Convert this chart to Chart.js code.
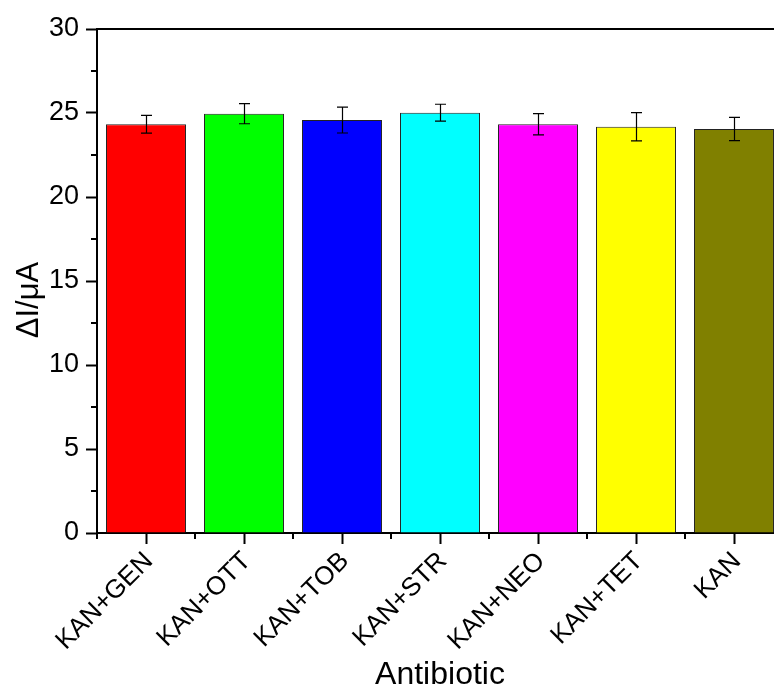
<!DOCTYPE html>
<html><head><meta charset="utf-8">
<style>html,body{margin:0;padding:0;overflow:hidden;background:#fff}
#wrap{width:800px;height:688px;position:relative}</style>
<script src="https://cdn.jsdelivr.net/npm/chart.js@4.4.1/dist/chart.umd.min.js"></script>
</head><body><div id="wrap"><canvas id="c"></canvas></div>
<script>
const categories = ['KAN+GEN','KAN+OTT','KAN+TOB','KAN+STR','KAN+NEO','KAN+TET','KAN'];
const values = [24.33, 24.96, 24.58, 25.02, 24.33, 24.18, 24.05];
const errors = [0.53, 0.60, 0.77, 0.50, 0.63, 0.84, 0.69];
const colors = ['#ff0000','#00ff00','#0000ff','#00ffff','#ff00ff','#ffff00','#808000'];
const yTickValues = [0,5,10,15,20,25,30];
const yMinorTicks = [2.5,7.5,12.5,17.5,22.5,27.5];
const yTitle = 'ΔI/μA';
const xTitle = 'Antibiotic';
const FONT = "'Liberation Sans', Arial, sans-serif";

const extras = {
  id: 'extras',
  afterDatasetsDraw(chart) {
    const {ctx, chartArea: a, scales: {x, y}} = chart;
    ctx.save();
    // error bars
    ctx.strokeStyle = '#000'; ctx.lineWidth = 1.2;
    values.forEach((v, i) => {
      const px = Math.round(x.getPixelForValue(i)) + 0.5;
      const t = y.getPixelForValue(v + errors[i]);
      const b = y.getPixelForValue(v - errors[i]);
      ctx.beginPath();
      ctx.moveTo(px, t); ctx.lineTo(px, b);
      ctx.moveTo(px - 5.5, t); ctx.lineTo(px + 5.5, t);
      ctx.moveTo(px - 5.5, b); ctx.lineTo(px + 5.5, b);
      ctx.stroke();
    });
    // top frame
    ctx.lineWidth = 2;
    ctx.beginPath(); ctx.moveTo(a.left - 1, a.top); ctx.lineTo(a.right + 1, a.top); ctx.stroke();
    // right frame
    ctx.beginPath(); ctx.moveTo(a.right, a.top); ctx.lineTo(a.right, a.bottom); ctx.stroke();
    // minor ticks y
    yMinorTicks.forEach(v => {
      const py = y.getPixelForValue(v);
      ctx.beginPath(); ctx.moveTo(a.left - 6, py); ctx.lineTo(a.left, py); ctx.stroke();
    });
    // minor ticks x (between categories)
    const step = x.getPixelForValue(1) - x.getPixelForValue(0);
    for (let i = 0; i <= categories.length; i++) {
      const px = x.getPixelForValue(0) + (i - 0.5) * step;
      ctx.beginPath(); ctx.moveTo(px, a.bottom); ctx.lineTo(px, a.bottom + 6); ctx.stroke();
    }
    // y title
    ctx.fillStyle = '#000';
    ctx.font = '31px ' + FONT;
    ctx.translate(29, 300);
    ctx.rotate(-Math.PI / 2);
    ctx.textAlign = 'center'; ctx.textBaseline = 'middle';
    ctx.fillText(yTitle, 0, 0);
    ctx.restore();
  }
};

new Chart(document.getElementById('c'), {
  type: 'bar',
  data: {
    labels: categories,
    datasets: [{
      data: values,
      backgroundColor: colors,
      borderColor: '#222',
      borderWidth: 1,
      barPercentage: 0.816,
      categoryPercentage: 1.0
    }]
  },
  options: {
    responsive: true,
    maintainAspectRatio: false,
    animation: false,
    devicePixelRatio: 1,
    layout: {padding: {top: 29, right: 17, left: 0, bottom: 0}},
    plugins: {legend: {display: false}, tooltip: {enabled: false}},
    scales: {
      x: {
        offset: true,
        grid: {display: true, drawOnChartArea: false, offset: false, tickLength: 11, tickColor: '#000', tickWidth: 2},
        border: {display: true, color: '#000', width: 2},
        ticks: {autoSkip: false, maxRotation: 45, minRotation: 45, color: '#000', padding: 2, labelOffset: 3,
                font: {family: FONT, size: 26}},
        title: {display: true, text: xTitle, color: '#000', font: {family: FONT, size: 32, lineHeight: 0.8}, padding: {top: 0, bottom: 0}},
        afterFit(s) { s.height = 155; }
      },
      y: {
        min: 0, max: 30,
        grid: {display: true, drawOnChartArea: false, tickLength: 11, tickColor: '#000', tickWidth: 2},
        border: {display: true, color: '#000', width: 2},
        ticks: {stepSize: 5, color: '#000', padding: 7, font: {family: FONT, size: 27}},
        afterBuildTicks(s) { s.ticks = yTickValues.map(v => ({value: v})); },
        afterFit(s) { s.width = 97; }
      }
    }
  },
  plugins: [extras]
});
</script></body></html>
